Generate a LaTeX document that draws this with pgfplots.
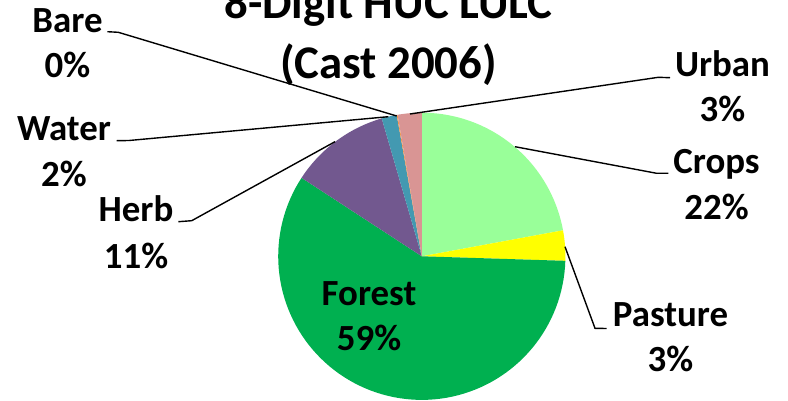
\documentclass[border=0pt]{standalone}
\usepackage{pgfplots}
\pgfplotsset{compat=1.18}
\usepackage{fontspec}
\setmainfont{Carlito}
\definecolor{cCrops}{HTML}{99FF99}
\definecolor{cPasture}{HTML}{FFFF00}
\definecolor{cForest}{HTML}{00B050}
\definecolor{cHerb}{HTML}{72588F}
\definecolor{cWater}{HTML}{4399B1}
\definecolor{cBare}{HTML}{F79646}
\definecolor{cUrban}{HTML}{D99594}
% pie geometry (pixel units)
\def\cx{421.8}
\def\cy{256.3}
\def\rr{143.6}
\xdef\sStart{90}
\newcommand\slice[2]{%
  \pgfmathsetmacro\sEnd{\sStart-3.6*#1}%
  \edef\doslice{\noexpand\addplot[fill=#2, draw=none, domain=\sEnd:\sStart, samples=90]
    ({\cx+\rr*cos(x)},{\cy-\rr*sin(x)}) -- (axis cs:\cx,\cy) -- cycle;}%
  \doslice
  \xdef\sStart{\sEnd}%
}
\newcommand\lab{\bfseries\fontsize{37}{43}\selectfont}
\newcommand\lbl[5]{%
  \node[anchor=base, font=\lab, inner sep=0pt] at (axis cs:#1,#2) {#4};
  \node[anchor=base, font=\lab, inner sep=0pt] at (axis cs:#1,#3) {#5};
}
\begin{document}
\begin{tikzpicture}
\begin{axis}[hide axis, scale only axis, width=788bp, height=401bp,
  xmin=0, xmax=788, ymin=0, ymax=401, y dir=reverse, clip=false]
% values in percent, clockwise from 12 o'clock
\slice{22.1}{cCrops}
\slice{3.4}{cPasture}
\slice{58.7}{cForest}
\slice{11.3}{cHerb}
\slice{1.7}{cWater}
\slice{0.1}{cBare}
\slice{2.7}{cUrban}
% leader lines
\addplot[black, line width=1.4pt, no marks] coordinates {(107.3,31.7) (118.3,32.3) (396.7,116)};
\addplot[black, line width=1.4pt, no marks] coordinates {(116.7,140.7) (129,140.5) (388.3,116.7)};
\addplot[black, line width=1.4pt, no marks] coordinates {(178.3,221.7) (191.7,220.7) (335,141.7)};
\addplot[black, line width=1.4pt, no marks] coordinates {(668.3,173.3) (656.7,173.3) (515,146.7)};
\addplot[black, line width=1.4pt, no marks] coordinates {(606.7,328.5) (595,328.3) (565,246.7)};
\addplot[black, line width=1.4pt, no marks] coordinates {(670,77.7) (658.3,77.3) (410,114)};
% labels
\lbl{67.5}{32}{77}{Bare}{0\%}
\lbl{64}{140}{186.7}{Water}{2\%}
\lbl{136}{221.7}{268}{Herb}{11\%}
\lbl{369}{305}{350}{Forest}{59\%}
\lbl{716.5}{173.3}{219}{Crops}{22\%}
\lbl{670.5}{326.7}{371.7}{Pasture}{3\%}
\lbl{722.5}{76.7}{121.7}{Urban}{3\%}
% title
\node[anchor=base, inner sep=0pt, font=\bfseries\fontsize{47}{56}\selectfont] at (axis cs:388.5,18.3) {8-Digit HUC LULC};
\node[anchor=base, inner sep=0pt, font=\bfseries\fontsize{47}{56}\selectfont] at (axis cs:388.5,78) {(Cast 2006)};
\end{axis}
\pgfresetboundingbox
\useasboundingbox (current axis.south west) rectangle (current axis.north east);
\end{tikzpicture}
\end{document}
